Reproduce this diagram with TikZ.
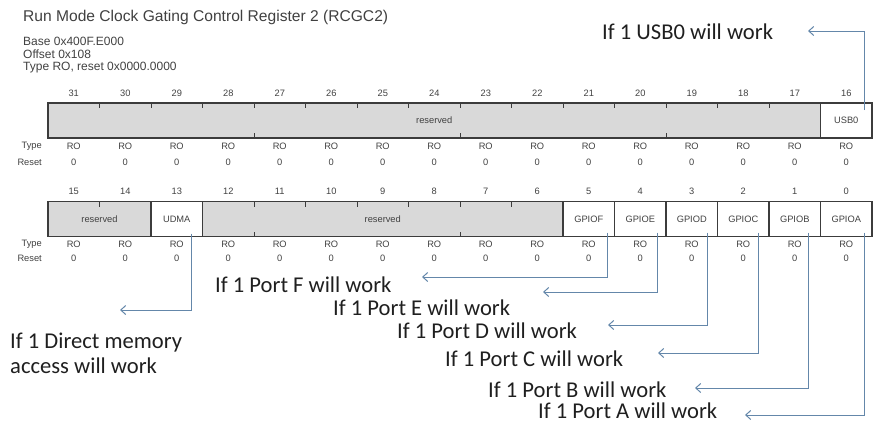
\documentclass[tikz,border=0pt]{standalone}
\usepackage{fontspec}
\setmainfont{Liberation Sans}
\newfontfamily\cali{Carlito}
\usepackage{tikz}
\usetikzlibrary{arrows.meta, positioning}
\definecolor{regline}{RGB}{60,60,60}
\definecolor{regfill}{RGB}{217,217,217}
\definecolor{regtext}{RGB}{65,65,65}
\definecolor{notecol}{RGB}{100,135,170}

\begin{document}
\begin{tikzpicture}[x=1pt, y=-1pt]
\tikzstyle{field} = [rectangle, draw=regline, line width=1.5pt, fill=white, minimum height=35pt, inner sep=0pt, outer sep=0pt, text=regtext, font=\fontsize{9.3}{10}\selectfont]
\tikzstyle{resfield} = [field, fill=regfill]
\tikzstyle{small} = [inner sep=0pt, text=regtext, font=\fontsize{9.3}{10}\selectfont]
\tikzstyle{head} = [anchor=west, inner sep=0pt, text=regtext, font=\fontsize{12}{13}\selectfont]
\tikzstyle{note} = [anchor=west, inner sep=0pt, text=black!88, font=\cali\fontsize{22.6}{25}\selectfont]
\tikzstyle{arrow} = [draw=notecol, line width=1pt, -{Straight Barb[length=5pt,width=9pt]}]
\tikzstyle{tick} = [draw=regline, line width=0.9pt]

\useasboundingbox (0,0) rectangle (873,423);

% header
\node (title) [head, text=black!75, font=\fontsize{15.6}{17}\selectfont] at (23,17) {Run Mode Clock Gating Control Register 2 (RCGC2)};
\node (base) [head] at (23,41) {Base 0x400F.E000};
\node (offs) [head] at (23,54.5) {Offset 0x108};
\node (type) [head] at (23,68) {Type RO, reset 0x0000.0000};

% bits 31..16
\node (res1) [resfield, minimum width=772.5pt] at (434.25,120.5) {reserved};
\node (usb) [field, minimum width=51.5pt, right=0pt of res1] {USB0};
\foreach \k in {1,...,14}
  \draw [tick] ([xshift={51.5pt*\k}]res1.north west) -- ++(0,5);
\foreach \k in {4,8,12}
  \draw [tick] ([xshift={51.5pt*\k}]res1.south west) -- ++(0,-5);

% bits 15..0
\node (res2) [resfield, minimum width=103pt] at (99.5,219) {reserved};
\node (udma) [field, minimum width=51.5pt, right=0pt of res2] {UDMA};
\node (res3) [resfield, minimum width=360.5pt, right=0pt of udma] {reserved};
\node (gpiof) [field, minimum width=51.5pt, right=0pt of res3] {GPIOF};
\node (gpioe) [field, minimum width=51.5pt, right=0pt of gpiof] {GPIOE};
\node (gpiod) [field, minimum width=51.5pt, right=0pt of gpioe] {GPIOD};
\node (gpioc) [field, minimum width=51.5pt, right=0pt of gpiod] {GPIOC};
\node (gpiob) [field, minimum width=51.5pt, right=0pt of gpioc] {GPIOB};
\node (gpioa) [field, minimum width=51.5pt, right=0pt of gpiob] {GPIOA};
\draw [tick] ([xshift=51.5pt]res2.north west) -- ++(0,5);
\foreach \k in {1,...,6}
  \draw [tick] ([xshift={51.5pt*\k}]res3.north west) -- ++(0,5);
\foreach \k in {1,5}
  \draw [tick] ([xshift={51.5pt*\k}]res3.south west) -- ++(0,-5);

% bit numbers, type and reset
\node (ttype) [small, anchor=east] at (42,146) {Type};
\node (treset) [small, anchor=east] at (42,162) {Reset};
\node (btype) [small, anchor=east] at (42,244) {Type};
\node (breset) [small, anchor=east] at (42,258) {Reset};
\foreach \i in {0,...,15} {
  \pgfmathtruncatemacro\hi{31-\i}
  \pgfmathtruncatemacro\lo{15-\i}
  \node (hi\i) [small] at ({73.75+51.5*\i},93) {\hi};
  \node (hro\i) [small] at ({73.75+51.5*\i},146) {RO};
  \node (hrs\i) [small] at ({73.75+51.5*\i},162) {0};
  \node (lo\i) [small] at ({73.75+51.5*\i},191) {\lo};
  \node (lro\i) [small] at ({73.75+51.5*\i},244) {RO};
  \node (lrs\i) [small] at ({73.75+51.5*\i},258) {0};
}

% notes
\node (usbtxt) [note] at (602,32) {If 1 USB0 will work};
\node (dmatxt) [note, anchor=north west, align=left] at (10,333) {If 1 Direct memory\\access will work};
\node (ftxt) [note] at (215,285) {If 1 Port F will work};
\node (etxt) [note] at (333,308) {If 1 Port E will work};
\node (dtxt) [note] at (397,331) {If 1 Port D will work};
\node (ctxt) [note] at (445,359) {If 1 Port C will work};
\node (btxt) [note] at (488,390) {If 1 Port B will work};
\node (atxt) [note] at (538,411) {If 1 Port A will work};

\coordinate (usbtip) at (808,31);
\coordinate (dmatip) at (120,310);
\coordinate (ftip) at (422,277);
\coordinate (etip) at (543,292);
\coordinate (dtip) at (608,325);
\coordinate (ctip) at (658,353);
\coordinate (btip) at (695,388);
\coordinate (atip) at (745,415);

\draw [arrow] ([xshift=-8pt,yshift=-7pt]usb.north east) |- (usbtip);
\draw [arrow] ([xshift=-11pt,yshift=3pt]udma.south east) |- (dmatip);
\draw [arrow] ([xshift=-7.5pt,yshift=4pt]gpiof.south east) |- (ftip);
\draw [arrow] ([xshift=-9pt,yshift=4pt]gpioe.south east) |- (etip);
\draw [arrow] ([xshift=-10.5pt,yshift=4pt]gpiod.south east) |- (dtip);
\draw [arrow] ([xshift=-11pt,yshift=4pt]gpioc.south east) |- (ctip);
\draw [arrow] ([xshift=-12.5pt,yshift=4pt]gpiob.south east) |- (btip);
\draw [arrow] ([xshift=-8pt,yshift=4pt]gpioa.south east) |- (atip);
\end{tikzpicture}
\end{document}
